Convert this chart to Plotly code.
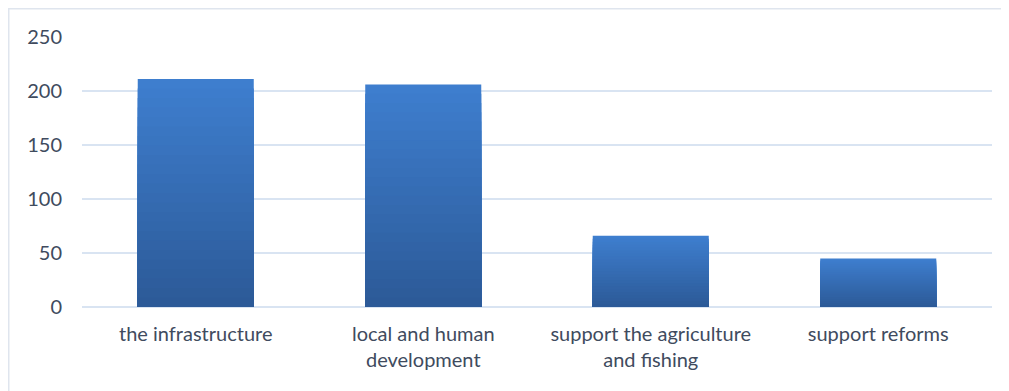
import plotly.graph_objects as go

categories = ["the infrastructure", "local and human development",
              "support the agriculture and fishing", "support reforms"]
tick_labels = ["the infrastructure", "local and human<br>development",
               "support the agriculture<br>and fishing", "support reforms"]
values = [211, 206, 66, 45]

y_ticks = [0, 50, 100, 150, 200, 250]

top_rgb = (62, 126, 206)
bottom_rgb = (44, 90, 152)
steps = 24

fig = go.Figure()
for k in range(steps):
    t = k / (steps - 1)
    c = tuple(round(top_rgb[i] + (bottom_rgb[i] - top_rgb[i]) * t) for i in range(3))
    frac = 1 - k / steps
    fig.add_trace(go.Bar(
        x=categories,
        y=[v * frac for v in values],
        marker=dict(color="rgb(%d,%d,%d)" % c, line=dict(width=0)),
        hoverinfo="skip" if k else "y",
        showlegend=False,
    ))

# page has an 8px body margin, so the figure is drawn 8px in from top-left
W, H = 1001, 383
ml, mr, mt, mb = 74, 17, 29, 84
pw, ph = W - ml - mr, H - mt - mb

fig.update_layout(
    width=W, height=H,
    margin=dict(l=ml, r=mr, t=mt, b=mb, pad=0),
    barmode="overlay",
    bargap=0.49,
    plot_bgcolor="white",
    paper_bgcolor="white",
    font=dict(family="Lato, Open Sans, sans-serif", size=20, color="#404b5e"),
    xaxis=dict(
        tickmode="array", tickvals=categories, ticktext=tick_labels,
        showgrid=False, showline=False, zeroline=False,
        ticks="", ticklabelstandoff=13,
    ),
    yaxis=dict(
        range=[0, 250], tickvals=y_ticks,
        showgrid=True, gridcolor="#d9e4f2", gridwidth=1.5,
        zeroline=True, zerolinecolor="#d9e4f2", zerolinewidth=1.5,
        showline=False, ticks="", ticklabelstandoff=19,
    ),
    shapes=[dict(
        type="rect", xref="paper", yref="paper",
        x0=(0.75 - ml) / pw, x1=(W + 5 - ml) / pw,
        y0=-(mb + 5) / ph, y1=(mt - 0.75) / ph + 1,
        line=dict(color="#dfe5ee", width=1.5), fillcolor="rgba(0,0,0,0)",
        layer="below",
    )],
)

fig.write_html("out.html")
